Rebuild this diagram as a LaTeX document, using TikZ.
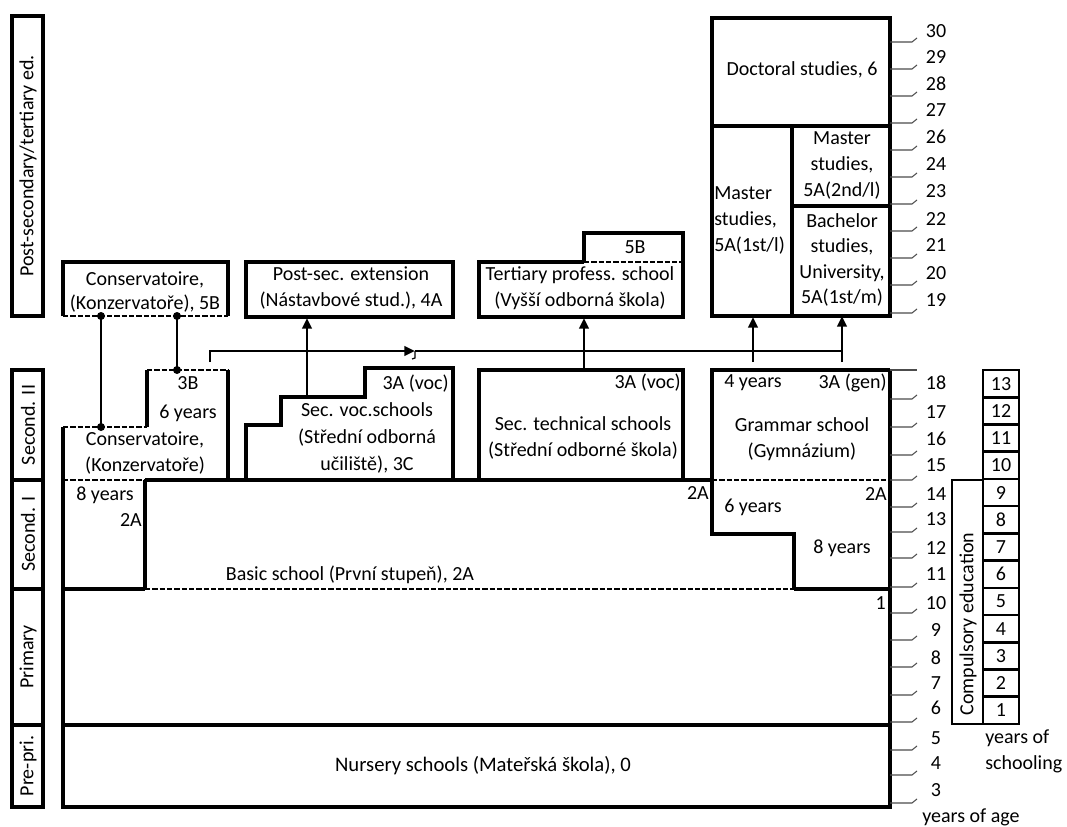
\documentclass[tikz,border=0pt]{standalone}
\usepackage{fontspec}
\setmainfont{Carlito}
\usetikzlibrary{arrows.meta}
\begin{document}
\begin{tikzpicture}[x=0.75pt,y=-0.75pt,
  thk/.style={line width=2.3pt},
  dsh/.style={line width=1.7pt,dash pattern=on 4pt off 1.5pt},
  txt/.style={font=\fontsize{15}{19.5}\selectfont, inner sep=0pt, align=center},
  lbl/.style={txt, rotate=90},
  tickln/.style={line width=0.8pt, black!70},
  conn/.style={line width=2pt},
  arr/.style={line width=2pt, -{Triangle[length=8pt,width=7pt]}},
  thin/.style={line width=0.9pt},
  dot/.style={circle, fill=black, inner sep=0pt, minimum size=6pt}]
\useasboundingbox (0,0) rectangle (1067,827);

% ---------- left level labels ----------
\draw[thk] (12,16) rectangle (43,316);
\draw[thk] (12,370) rectangle (43,480);
\draw[thk] (12,480) rectangle (43,589);
\draw[thk] (12,589) rectangle (43,725);
\draw[thk] (12,725) rectangle (43,807);
\node[lbl] (lpost) at (28,166) {Post-secondary/tertiary ed.};
\node[lbl] (lsec2) at (28,425) {Second. II};
\node[lbl] (lsec1) at (28,534) {Second. I};
\node[lbl] (lprim) at (28,657) {Primary};
\node[lbl] (lpre) at (28,766) {Pre-pri.};

% ---------- nursery + primary ----------
\draw[thk] (63,427) -- (63,807) -- (890,807) -- (890,370);
\draw[thk] (63,725) -- (890,725);
\draw[thk] (63,589) -- (145,589);
\draw[dsh] (145,589) -- (794,589);
\draw[thk] (794,589) -- (890,589);
\node[txt, font=\fontsize{15.5}{19}\selectfont] (nursery) at (483,766) {Nursery schools (Mateřská škola), 0};
\node[txt, anchor=east] (one) at (886,603) {1};

% ---------- basic school ----------
\draw[dsh] (63,480) -- (145,480);
\draw[thk] (145,480) -- (145,589);
\draw[thk] (145,480) -- (712,480);
\node[txt] (b8y) at (105,495) {8 years};
\node[txt, anchor=east] (b2a) at (142,520) {2A};
\node[txt] (basic) at (350,575) {Basic school (První stupeň), 2A};
\node[txt, anchor=east] (b2ar) at (709,493) {2A};

% ---------- grammar school ----------
\draw[thk] (794,589) -- (794,534) -- (712,534) -- (712,370) -- (890,370);
\draw[dsh] (712,480) -- (890,480);
\node[txt, anchor=west] (g4y) at (724,383) {4 years};
\node[txt, anchor=east] (g3a) at (887,383) {3A (gen)};
\node[txt, font=\fontsize{15}{20}\selectfont] (gram) at (802,439) {Grammar school\\(Gymnázium)};
\node[txt, anchor=east] (g2a) at (887,494) {2A};
\node[txt, anchor=west] (g6y) at (724,507) {6 years};
\node[txt] (g8y) at (842,548) {8 years};

% ---------- conservatoire (second. II) ----------
\draw[dsh] (63,427) -- (147,427);
\draw[thk] (147,427) -- (147,370);
\draw[dsh] (147,370) -- (228,370);
\draw[thk] (228,370) -- (228,480);
\node[txt] (c3b) at (188,383) {3B};
\node[txt] (c6y) at (188,413) {6 years};
\node[txt, font=\fontsize{15}{20}\selectfont] (cons2) at (145,453) {Conservatoire,\\(Konzervatoře)};

% ---------- sec. voc. schools ----------
\draw[thk] (246,480) -- (246,425) -- (281,425) -- (281,397) -- (365,397) -- (365,368) -- (453,368) -- (453,480);
\node[txt, anchor=east] (v3a) at (449,384) {3A (voc)};
\node[txt, font=\fontsize{15}{20}\selectfont] (voc) at (367,438) {Sec. voc.schools\\(Střední odborná\\učiliště), 3C};

% ---------- sec. technical schools ----------
\draw[thk] (479,480) -- (479,370) -- (683,370) -- (683,480);
\node[txt, anchor=east] (t3a) at (681,383) {3A (voc)};
\node[txt, font=\fontsize{15}{20}\selectfont] (tech) at (583,438) {Sec. technical schools\\(Střední odborné škola)};

% ---------- post-secondary boxes ----------
\draw[thk] (63,316) -- (63,262) -- (228,262) -- (228,316);
\draw[dsh] (63,316) -- (228,316);
\node[txt, font=\fontsize{15}{18}\selectfont] (cons5b) at (145,292) {Conservatoire,\\(Konzervatoře), 5B};

\draw[thk] (246,262) rectangle (453,317);
\node[txt, font=\fontsize{15}{20}\selectfont] (postsec) at (351,288) {Post-sec. extension\\(Nástavbové stud.), 4A};

\draw[thk] (584,262) -- (479,262) -- (479,317) -- (683,317) -- (683,233) -- (584,233) -- (584,262);
\draw[dsh] (584,262) -- (683,262);
\node[txt] (t5b) at (635,247) {5B};
\node[txt, font=\fontsize{15}{19.5}\selectfont] (tert) at (580,288) {Tertiary profess. school\\(Vyšší odborná škola)};

% ---------- university ----------
\draw[thk] (712,18) rectangle (890,316);
\draw[thk] (712,126) -- (890,126);
\draw[thk] (792,126) -- (792,316);
\draw[thk] (792,206) -- (890,206);
\node[txt] (doc) at (802,70) {Doctoral studies, 6};
\node[txt, font=\fontsize{15}{19.5}\selectfont] (m2) at (842,165) {Master\\studies,\\5A(2nd/l)};
\node[txt, font=\fontsize{15}{19}\selectfont] (bach) at (842,260) {Bachelor\\studies,\\University,\\5A(1st/m)};
\node[txt, anchor=west, align=left, font=\fontsize{15}{19.5}\selectfont] (m1) at (714,220) {Master\\studies,\\5A(1st/l)};

% ---------- connectors ----------
\coordinate (cA1) at (101,427);
\coordinate (cA2) at (101,316);
\coordinate (cB1) at (177,370);
\coordinate (cB2) at (177,316);
\draw[conn] (cA1) -- (cA2);
\draw[conn] (cB1) -- (cB2);
\node[dot] (dA1) at (cA1) {};
\node[dot] (dA2) at (cA2) {};
\node[dot] (dB1) at (cB1) {};
\node[dot] (dB2) at (cB2) {};

\coordinate (vocTop) at (307,397);
\coordinate (postBot) at (307,318);
\draw[arr] (vocTop) -- (postBot);

\coordinate (hStart) at (210,362);
\coordinate (hCorner) at (210,351);
\coordinate (hTip) at (415,351);
\coordinate (hEnd) at (842,351);
\draw[arr] (hStart) -- (hCorner) -- (hTip);
\draw[thin] (hTip) -- (hEnd);
\draw[thin] (415,351) -- (415,358) -- (412,359);

\coordinate (techTop) at (584,370);
\coordinate (tertBot) at (584,318);
\draw[arr] (techTop) -- (tertBot);

\coordinate (gA) at (753,362);
\coordinate (m1Bot) at (753,317);
\draw[arr] (gA) -- (m1Bot);
\coordinate (gB) at (842,362);
\coordinate (bachBot) at (842,316);
\draw[arr] (gB) -- (bachBot);

% ---------- age scale ----------
\foreach \t/\n/\ny in {42/30/31, 69/29/57, 96/28/84, 123/27/110, 150/26/137, 177/24/164, 204/23/191, 231/22/219, 258/21/245, 285/20/273, 313/19/300,
  399/18/383, 427/17/412, 455/16/439, 480/15/465, 507/14/494, 532/13/519, 558/12/548, 587/11/574, 613/10/603,
  640/9/630, 667/8/658, 695/7/683, 722/6/708, 750/5/738, 775/4/763}{
  \draw[tickln] (890,\t) -- (912,\t) -- (917,\t-4);
  \node[txt] (age\n) at (936,\ny) {\n};
}
\draw[tickln] (890,803) -- (912,803) -- (917,799);
\node[txt] (age3) at (936,790) {3};
\draw[tickln] (890,370) -- (917,370);
\node[txt, anchor=west] (yage) at (922,817) {years of age};

% ---------- years of schooling ----------
\draw[line width=2pt] (952,480) rectangle (983,724);
\node[lbl] (comp) at (968,624) {Compulsory education};
\foreach \i in {1,...,13}{
  \draw[line width=2pt] (983,{724-27.23*(\i-1)}) rectangle (1019,{724-27.23*\i});
  \node[txt] (s\i) at (1001,{724-27.23*(\i-0.5)}) {\i};
}
\node[txt, anchor=west, align=left, font=\fontsize{15}{19.5}\selectfont] (ysch) at (985,751) {years of\\schooling};
\end{tikzpicture}
\end{document}
